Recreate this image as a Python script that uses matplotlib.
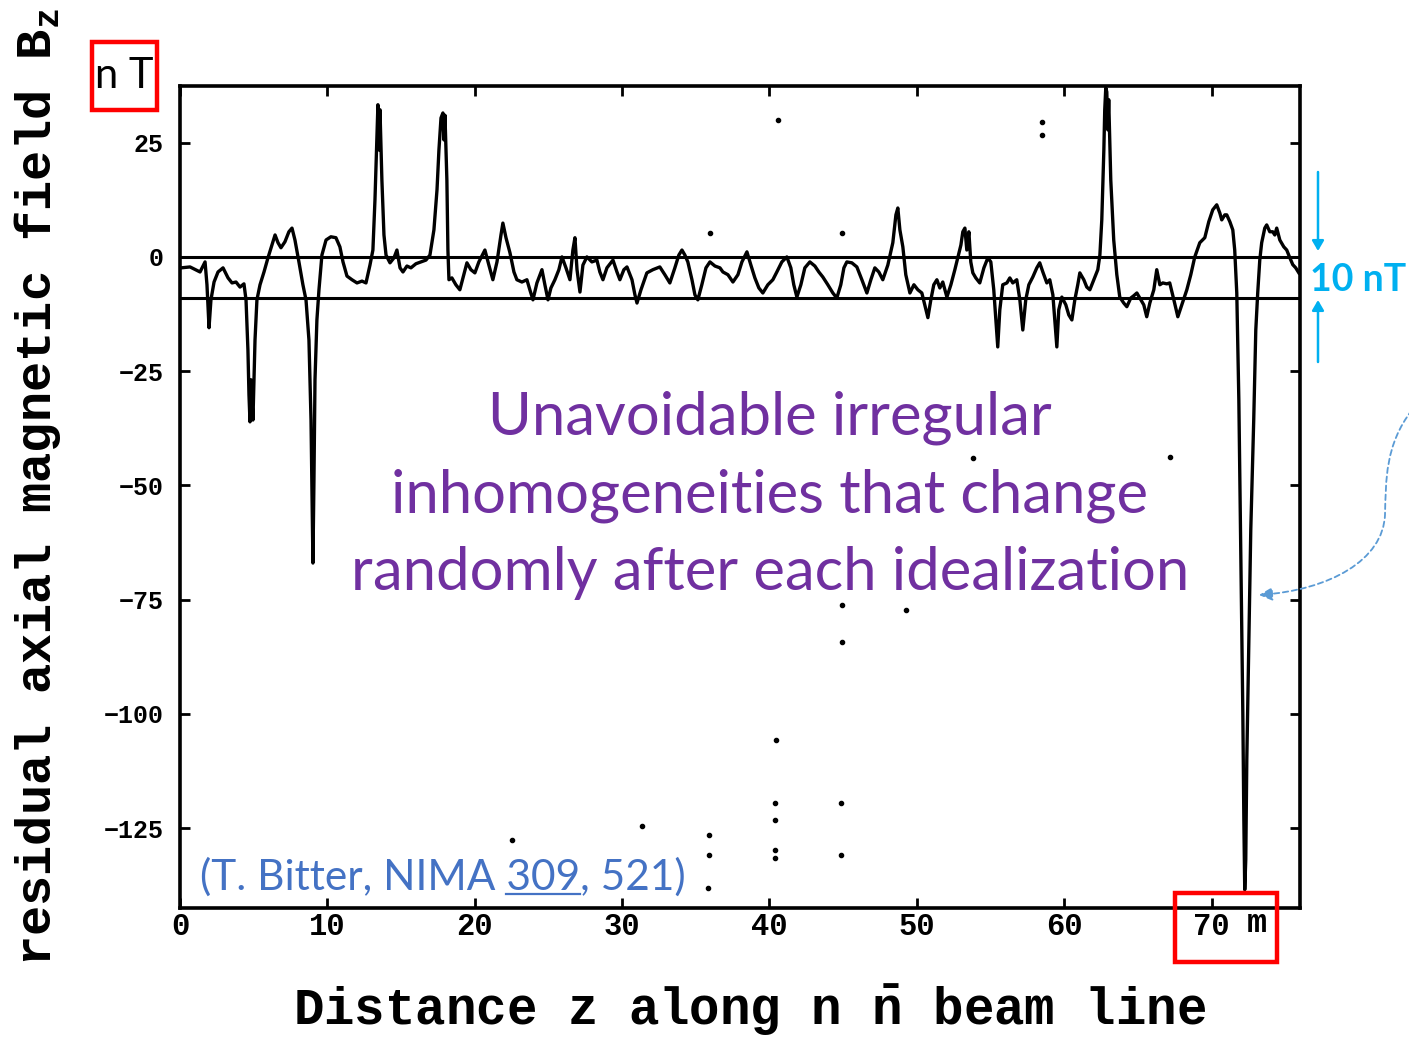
import matplotlib
matplotlib.use("Agg")
import matplotlib.pyplot as plt
from matplotlib.patches import Rectangle, FancyArrowPatch
from matplotlib.path import Path

# Residual axial field B_z (nT) measured along the beam line z (m)
z_m = [0.07, 0.68, 1.36, 1.70, 1.83, 1.97, 2.10, 2.31, 2.58, 2.92, 3.26, 3.53, 3.80, 4.07, 4.34,
       4.48, 4.61, 4.68, 4.75, 4.82, 4.95, 5.09, 5.22, 5.43, 5.70, 5.97, 6.24, 6.45, 6.65, 6.85,
       7.12, 7.39, 7.60, 7.80, 8.07, 8.34, 8.55, 8.75, 8.89, 8.96, 9.02, 9.09, 9.16, 9.29, 9.43,
       9.63, 9.91, 10.24, 10.58, 10.85, 11.06, 11.33, 11.67, 12.01, 12.35, 12.62, 12.89, 13.09,
       13.23, 13.36, 13.43, 13.50, 13.57, 13.70, 13.84, 13.98, 14.25, 14.52, 14.72, 14.93, 15.13,
       15.40, 15.67, 16.01, 16.35, 16.69, 16.96, 17.23, 17.44, 17.57, 17.71, 17.84, 17.91, 17.98,
       18.11, 18.18, 18.25, 18.45, 18.72, 18.99, 19.20, 19.47, 19.74, 20.01, 20.28, 20.69, 20.96,
       21.23, 21.51, 21.78, 21.91, 22.12, 22.39, 22.66, 22.86, 23.20, 23.54, 23.74, 23.95, 24.22,
       24.56, 24.76, 24.97, 25.17, 25.44, 25.71, 25.92, 26.19, 26.46, 26.66, 26.80, 26.94, 27.14,
       27.34, 27.61, 27.95, 28.29, 28.49, 28.70, 28.97, 29.38, 29.65, 29.85, 30.12, 30.33, 30.67,
       30.87, 31.01, 31.28, 31.68, 32.09, 32.56, 32.90, 33.24, 33.58, 33.85, 34.06, 34.26, 34.46,
       34.74, 34.94, 35.14, 35.41, 35.69, 35.96, 36.30, 36.64, 36.84, 37.18, 37.52, 37.86, 38.13,
       38.47, 38.74, 39.01, 39.28, 39.55, 39.89, 40.23, 40.50, 40.84, 41.18, 41.45, 41.65, 41.86,
       42.13, 42.40, 42.74, 43.08, 43.35, 43.62, 43.96, 44.30, 44.57, 44.84, 45.05, 45.25, 45.59,
       45.93, 46.27, 46.61, 46.88, 47.15, 47.42, 47.69, 48.03, 48.37, 48.58, 48.71, 48.85, 49.05,
       49.25, 49.53, 49.80, 50.07, 50.34, 50.54, 50.75, 50.95, 51.15, 51.36, 51.56, 51.76, 52.04,
       52.31, 52.58, 52.78, 52.99, 53.12, 53.26, 53.39, 53.53, 53.66, 53.80, 54.00, 54.27, 54.55,
       54.82, 55.02, 55.22, 55.36, 55.49, 55.63, 55.83, 56.11, 56.31, 56.51, 56.78, 56.99, 57.19,
       57.39, 57.60, 57.87, 58.14, 58.34, 58.55, 58.82, 59.02, 59.23, 59.36, 59.50, 59.63, 59.84,
       60.11, 60.31, 60.52, 60.72, 60.92, 61.06, 61.33, 61.53, 61.74, 62.01, 62.28, 62.42, 62.55,
       62.69, 62.75, 62.82, 62.89, 62.96, 63.02, 63.16, 63.36, 63.57, 63.77, 64.04, 64.25, 64.52,
       64.72, 64.93, 65.20, 65.40, 65.60, 65.81, 66.08, 66.28, 66.49, 66.69, 66.96, 67.16, 67.44,
       67.71, 67.98, 68.32, 68.59, 68.86, 69.20, 69.54, 69.81, 70.08, 70.35, 70.56, 70.69, 70.90,
       71.03, 71.24, 71.44, 71.57, 71.71, 71.85, 71.98, 72.12, 72.19, 72.25, 72.32, 72.39, 72.52,
       72.66, 72.86, 73.00, 73.13, 73.27, 73.40, 73.61, 73.74, 73.95, 74.15, 74.29, 74.42, 74.63,
       74.90, 75.10, 75.31, 75.51, 75.71, 75.92]
bz_nT = [-2.4, -2.2, -3.3, -1.1, -6.1, -15.5, -9.4, -5.5, -3.3, -2.4, -4.6, -5.7, -5.5, -6.6, -5.9,
         -9.4, -20.4, -30.2, -36.1, -26.9, -35.7, -18.2, -9.4, -6.1, -3.3, -0.2, 2.6, 4.8, 3.1, 2.0,
         3.3, 5.5, 6.3, 3.7, -1.1, -6.1, -9.4, -18.2, -35.7, -53.2, -67.0, -48.8, -26.9, -13.8, -7.2,
         0.4, 3.7, 4.4, 4.2, 2.2, -1.1, -4.2, -5.0, -5.7, -5.3, -5.7, -1.8, 1.5,
         12.5, 25.6, 33.3, 23.4, 32.2, 16.8, 4.8, 0.4, -1.3, -0.2, 1.5, -2.4, -3.3,
         -2.0, -2.4, -1.5, -1.1, -0.7, 0.4, 5.9, 14.7, 23.4, 30.4, 31.5, 25.6, 31.0,
         16.8, 1.5, -5.0, -4.6, -6.1, -7.2, -4.6, -1.3, -2.8, -3.5, -1.1, 1.5, -1.8,
         -5.0, -1.1, 4.8, 7.4, 4.2, 0.9, -3.3, -5.0, -5.5, -5.0, -7.2, -9.4, -5.7,
         -2.8, -6.1, -9.4, -6.8, -5.0, -2.8, 0.0, -2.4, -5.0, 1.5, 4.2, -2.8, -7.7,
         -1.8, 0.0, -1.1, -0.7, -3.3, -5.0, -2.4, -0.7, -3.3, -5.0, -2.8, -2.2, -5.0,
         -8.3, -10.1, -7.2, -3.5, -2.8, -2.2, -3.9, -5.7, -2.4, 0.4, 1.5, 0.4, -1.1,
         -5.0, -8.3, -9.4, -6.1, -2.4, -1.1, -2.0, -2.4, -3.3, -3.9, -5.5, -3.9, -1.1,
         1.1, -1.8, -4.6, -6.8, -7.9, -6.1, -5.0, -3.3, -1.1, 0.0, -2.4, -6.1, -8.8,
         -6.1, -2.4, -1.1, -2.0, -3.3, -4.4, -6.1, -7.9, -9.0, -6.1, -2.4, -1.1, -1.3,
         -2.2, -5.0, -7.9, -5.0, -2.4, -3.3, -5.0, -1.8, 3.1, 9.2, 10.7, 5.9, 2.2,
         -3.9, -7.9, -6.1, -7.2, -7.9, -10.5, -13.3, -9.4, -6.1, -5.0, -6.8, -5.5, -8.8,
         -6.1, -2.8, -0.2, 2.6, 5.5, 6.3, 1.5, 5.5, -1.1, -3.5, -4.6, -5.7, -2.4,
         -0.2, -1.1, -7.2, -13.8, -19.7, -11.6, -6.1, -5.7, -4.6, -5.7, -5.0, -9.4, -16.0,
         -9.4, -6.1, -4.4, -2.4, -1.3, -3.3, -5.7, -5.0, -8.3, -13.8, -19.7, -11.6, -8.8,
         -10.5, -12.7, -13.8, -9.4, -6.1, -3.5, -5.0, -6.6, -7.2, -5.0, -2.8, 0.4, 8.1,
         23.4, 32.2, 37.0, 36.1, 27.8, 34.4, 16.8, 3.7, -3.9, -8.8, -10.1, -10.9, -9.0,
         -8.5, -7.9, -9.4, -10.5, -13.1, -10.1, -7.2, -2.8, -6.1, -5.7, -5.9, -5.7, -9.4,
         -13.1, -10.5, -7.2, -3.9, 0.0, 3.1, 4.2, 7.7, 10.3, 11.4, 9.6, 8.1, 9.2,
         9.2, 7.7, 5.9, 1.5, -7.9, -31.3, -64.1, -99.8, -123.2, -138.5, -131.9, -110.1, -86.0,
         -59.7, -35.7, -16.0, -7.9, -0.7, 3.1, 6.3, 7.0, 5.5, 5.5, 4.8, 6.3, 3.7,
         2.2, 1.5, -0.2, -1.7, -2.4, -3.5]

# Isolated specks on the chart area
speck_z = [40.57, 58.48, 58.48, 35.96, 44.91, 53.80, 67.16, 44.91, 44.91, 49.25, 40.43,
           40.37, 40.37, 40.37, 40.37, 35.89, 35.89, 31.34, 22.52, 44.84, 44.84, 35.82]
speck_b = [30.0, 29.5, 26.7, 5.3, 5.3, -44.0, -43.8, -76.1, -84.2, -77.2, -105.7,
           -119.5, -123.2, -129.8, -131.5, -126.5, -130.9, -124.5, -127.6, -119.5, -130.9, -138.1]

# Band limits drawn as horizontal lines (nT)
band_levels = [0, -9]

x_ticks = [0, 10, 20, 30, 40, 50, 60, 70]
x_tick_labels = ['0', '10', '20', '30', '40', '50', '60', '70']
y_ticks = [25, 0, -25, -50, -75, -100, -125]
y_tick_labels = ['25', '0', '\u221225', '\u221250', '\u221275', '\u2212100', '\u2212125']

W, H = 1409, 1037
fig = plt.figure(figsize=(W / 100, H / 100), dpi=100)
fig.patch.set_facecolor('white')


def fpos(x, y):
    return x / W, 1 - y / H


ax = fig.add_axes([180 / W, 1 - 908 / H, (1300 - 180) / W, (908 - 86) / H])
ax.set_xlim(0, 76)
ax.set_ylim(-142.5, 37.4)

for lev in band_levels:
    ax.axhline(lev, color='black', lw=2.2, zorder=2)
ax.plot(z_m, bz_nT, color='black', lw=2.4, solid_joinstyle='round', zorder=3)
ax.plot(speck_z, speck_b, 'o', color='black', ms=3, zorder=3)

for s in ax.spines.values():
    s.set_linewidth(2.6)
    s.set_color('black')

mono = 'Liberation Mono'
ax.set_xticks(x_ticks)
ax.set_xticklabels(x_tick_labels, family=mono, weight='bold', size=22)
ax.set_yticks(y_ticks)
ax.set_yticklabels(y_tick_labels, family=mono, weight='bold', size=18)
ax.tick_params(axis='both', direction='in', length=7, width=2,
               top=True, right=True)
ax.tick_params(axis='x', pad=3)
ax.tick_params(axis='y', pad=12)
ax.text(73.1, -142.5, 'm', transform=ax.transData, ha='center', va='top',
        family=mono, weight='bold', size=24, color='black')

fig.text(*fpos(38, 487), 'residual axial magnetic field B$\\mathregular{_z}$', rotation=90,
         ha='center', va='center', family=mono, weight='bold', size=36.3)
fig.text(*fpos(750, 1010), 'Distance z along n $\\mathregular{\\bar{n}}$ beam line',
         ha='center', va='center', family=mono, weight='bold', size=36.5)

# unit label box and box around the last x tick
fig.text(*fpos(124, 76), 'n T', ha='center', va='center', family='Lato', size=30, color='black')
fig.add_artist(Rectangle(fpos(92, 110), 65 / W, 68 / H, transform=fig.transFigure,
                         fill=False, edgecolor='#FF0000', lw=3.2))
fig.add_artist(Rectangle(fpos(1175, 962), 102 / W, 69 / H, transform=fig.transFigure,
                         fill=False, edgecolor='#FF0000', lw=3.2))

# band width marker
cyan = '#00B0F0'
fig.add_artist(FancyArrowPatch(fpos(1318, 172), fpos(1318, 251), transform=fig.transFigure,
                               arrowstyle='-|>,head_length=6,head_width=3.5', color=cyan, lw=1.8,
                               shrinkA=0, shrinkB=0))
fig.add_artist(FancyArrowPatch(fpos(1318, 362), fpos(1318, 300), transform=fig.transFigure,
                               arrowstyle='-|>,head_length=6,head_width=3.5', color=cyan, lw=1.8,
                               shrinkA=0, shrinkB=0))
fig.text(*fpos(1358, 280), '10 nT', ha='center', va='center', family='Lato', weight='bold',
         size=27, color=cyan)

purple = '#7030A0'
for line, yc in [('Unavoidable irregular', 418),
                 ('inhomogeneities that change', 496),
                 ('randomly after each idealization', 573)]:
    fig.text(*fpos(770, yc), line, ha='center', va='center', family='Lato', size=43, color=purple)

# citation with underlined volume number
blue = '#4472C4'
csize = 30.5
cite = fig.text(*fpos(200, 877), '(T. Bitter, NIMA 309, 521)', ha='left', va='center',
                family='Lato', size=csize, color=blue)
renderer = fig.canvas.get_renderer()
pre = fig.text(*fpos(200, 877), '(T. Bitter, NIMA ', ha='left', va='center',
               family='Lato', size=csize, color=blue)
vol = fig.text(*fpos(200, 877), '(T. Bitter, NIMA 309', ha='left', va='center',
               family='Lato', size=csize, color=blue)
x0 = pre.get_window_extent(renderer).x1
x1 = vol.get_window_extent(renderer).x1
ybase = cite.get_window_extent(renderer).y0
pre.remove()
vol.remove()
fig.add_artist(plt.Line2D([x0 / W, x1 / W], [(ybase + 3) / H] * 2, transform=fig.transFigure,
                          color=blue, lw=1.6))

# dashed curved pointer to the deep dip
verts = [fpos(1412, 410), fpos(1385, 445), fpos(1386, 480), fpos(1385, 515),
         fpos(1383, 560), fpos(1330, 590), fpos(1259, 595)]
codes = [Path.MOVETO, Path.CURVE4, Path.CURVE4, Path.CURVE4, Path.CURVE4, Path.CURVE4, Path.CURVE4]
fig.add_artist(FancyArrowPatch(path=Path(verts, codes), transform=fig.transFigure,
                               arrowstyle='-|>,head_length=8,head_width=4', color='#5B9BD5',
                               lw=1.3, linestyle=(0, (3, 2))))

fig.savefig('out.png', dpi=100, facecolor='white')
